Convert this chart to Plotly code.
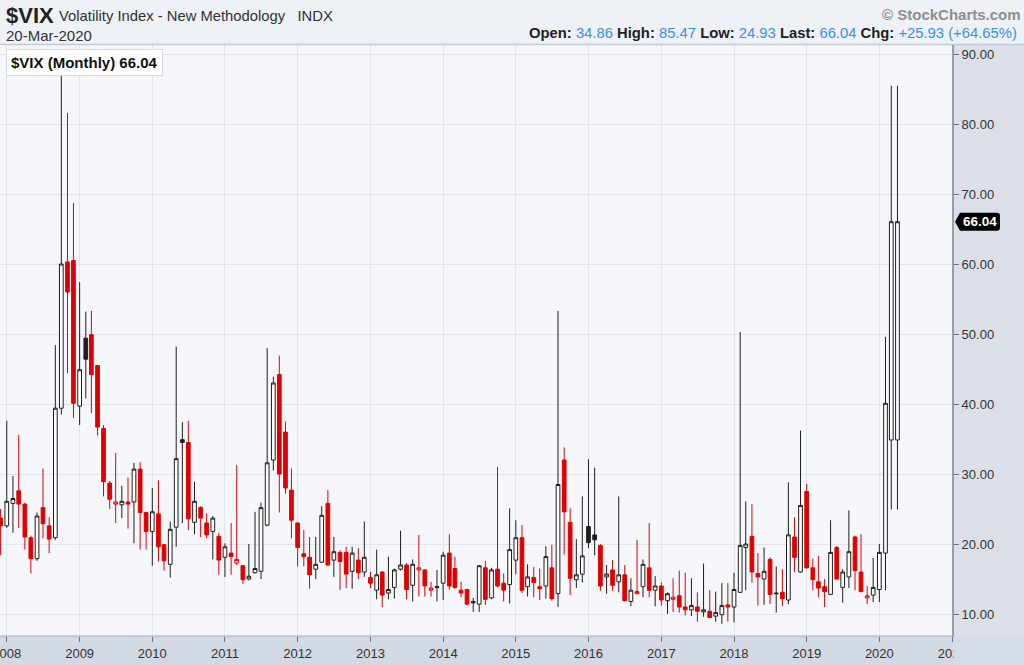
import plotly.graph_objects as go
import pandas as pd

# ---------------- data (monthly $VIX candles, Dec-2007 .. Mar-2020 + repeated current bar) ----------------
months = pd.date_range("2007-12-01", periods=149, freq="MS")

opens = [
    23.7,
    22.6, 25.8, 27.6, 25.7, 20.9, 17.9, 25.2, 22.6, 20.9, 39.4, 60.3, 60.5,
    39.7, 49.4, 49.9, 45.5, 36.5, 28.7, 25.7, 25.6, 26.0, 26.0, 30.7, 24.5,
    21.8, 24.3, 19.9, 17.1, 22.4, 34.9, 34.5, 23.1, 25.2, 23.0, 21.8, 21.1,
    18.1, 18.7, 17.3, 16.9, 15.0, 15.9, 16.1, 22.7, 32.0, 44.2, 36.0, 27.7,
    23.0, 18.6, 18.1, 16.4, 17.4, 25.8, 17.7, 18.8, 18.8, 16.1, 17.7, 16.0,
    15.2, 13.4, 16.0, 13.0, 13.8, 16.4, 17.0, 14.1, 16.3, 16.3, 13.4, 13.9,
    14.4, 18.7, 16.5, 13.4, 13.5, 11.8, 11.4, 16.6, 12.3, 16.4, 14.4, 14.2,
    17.7, 20.9, 13.9, 15.2, 13.9, 14.0, 16.6, 12.9, 32.0, 23.1, 14.9, 15.7,
    22.5, 21.3, 19.8, 15.3, 16.3, 14.6, 15.6, 11.8, 12.9, 13.9, 16.6, 13.4,
    14.0, 11.9, 12.1, 12.6, 11.0, 10.6, 11.0, 10.3, 10.4, 9.7, 9.9, 11.3,
    11.0, 13.1, 19.5, 21.1, 15.8, 15.0, 17.8, 13.0, 13.1, 12.0, 21.0, 16.0,
    27.5, 16.6, 14.6, 13.9, 12.8, 19.5, 13.8, 15.3, 21.0, 16.0, 12.3, 12.7,
    13.5, 18.7, 34.86, 34.86,
]
highs = [
    25.0,
    37.6, 29.7, 35.6, 25.9, 21.2, 24.5, 30.8, 23.8, 48.4, 89.5, 81.6, 68.7,
    57.4, 53.2, 53.3, 45.6, 37.0, 29.0, 33.0, 28.3, 29.5, 31.6, 31.7, 24.6,
    28.0, 29.1, 20.0, 23.2, 48.2, 37.4, 37.6, 28.9, 25.4, 24.4, 24.0, 21.6,
    20.1, 23.0, 31.3, 17.0, 20.0, 24.6, 25.9, 48.0, 43.9, 46.9, 37.5, 30.8,
    23.1, 22.0, 21.0, 21.0, 25.4, 27.7, 21.0, 19.1, 19.6, 19.6, 19.4, 23.2,
    16.0, 19.2, 16.1, 18.2, 16.5, 21.9, 17.3, 17.8, 21.3, 16.4, 14.6, 16.3,
    18.9, 21.4, 18.2, 14.6, 13.6, 12.3, 17.0, 17.6, 16.6, 31.0, 15.8, 25.1,
    23.4, 22.7, 17.1, 16.7, 16.5, 19.7, 19.9, 53.3, 33.8, 25.1, 20.7, 26.8,
    32.1, 30.9, 20.0, 17.0, 17.7, 26.8, 17.0, 15.1, 20.6, 17.8, 23.0, 15.4,
    14.5, 13.1, 15.1, 16.2, 15.9, 15.1, 13.1, 17.2, 13.4, 13.2, 14.4, 14.4,
    15.9, 50.3, 26.1, 25.7, 18.7, 19.5, 18.1, 16.8, 16.4, 28.8, 23.8, 36.2,
    28.6, 17.9, 18.3, 15.0, 23.4, 19.7, 16.4, 24.8, 21.2, 21.4, 14.0, 18.0,
    20.0, 49.6, 85.47, 85.47,
]
lows = [
    18.4,
    22.3, 21.6, 22.3, 19.2, 15.8, 17.6, 20.8, 18.7, 20.6, 38.5, 44.4, 38.0,
    37.0, 40.8, 38.7, 35.5, 26.8, 25.0, 23.0, 23.7, 22.2, 20.1, 19.2, 19.2,
    16.9, 17.5, 16.2, 15.2, 19.6, 23.0, 22.0, 21.4, 21.0, 20.8, 17.8, 15.6,
    15.3, 15.6, 17.0, 14.3, 14.8, 15.8, 15.0, 22.5, 30.5, 24.5, 27.2, 20.8,
    16.8, 16.8, 13.6, 15.0, 17.3, 16.9, 15.3, 13.4, 13.7, 13.6, 15.0, 15.3,
    13.7, 12.1, 11.0, 12.1, 12.2, 16.2, 12.1, 11.8, 12.5, 12.5, 12.5, 11.8,
    12.0, 13.5, 13.6, 12.4, 11.3, 10.3, 10.3, 11.3, 12.1, 13.8, 11.8, 11.5,
    15.7, 13.0, 12.5, 12.4, 12.0, 12.2, 11.9, 11.0, 18.5, 12.7, 13.7, 14.5,
    19.4, 18.4, 13.3, 12.9, 13.3, 13.1, 11.8, 11.1, 12.8, 12.4, 12.4, 11.1,
    11.2, 10.0, 10.3, 10.2, 9.8, 9.7, 8.9, 9.6, 9.4, 8.9, 8.6, 8.9,
    8.8, 13.1, 13.4, 14.5, 11.2, 11.3, 11.4, 10.2, 11.1, 11.4, 16.0, 15.9,
    16.5, 13.4, 12.4, 11.0, 12.7, 14.9, 11.6, 13.7, 13.4, 13.1, 11.4, 11.7,
    11.7, 13.4, 24.93, 24.93,
]
closes = [
    22.6,
    26.1, 26.5, 25.7, 21.0, 17.9, 24.0, 22.9, 20.7, 39.4, 60.0, 56.0, 40.1,
    44.9, 46.4, 44.2, 36.7, 28.9, 26.4, 26.0, 26.1, 25.7, 30.7, 24.5, 21.8,
    24.6, 19.6, 17.6, 22.1, 32.2, 34.5, 23.6, 26.1, 23.7, 21.3, 23.7, 17.7,
    19.6, 18.2, 17.8, 14.9, 15.4, 16.5, 25.2, 31.6, 43.0, 30.0, 28.0, 23.4,
    19.5, 18.2, 15.6, 17.1, 24.1, 17.0, 18.9, 17.5, 15.7, 18.7, 15.9, 18.1,
    14.4, 15.6, 12.7, 13.5, 16.3, 17.0, 13.5, 17.1, 16.6, 14.0, 13.7, 13.8,
    18.4, 14.0, 13.8, 13.0, 11.4, 11.6, 16.9, 12.1, 16.3, 14.0, 13.4, 19.2,
    20.9, 13.4, 15.3, 14.5, 13.6, 18.2, 12.2, 28.5, 24.6, 15.1, 15.6, 18.3,
    20.2, 20.6, 14.0, 15.7, 14.1, 15.6, 11.9, 13.4, 13.2, 17.1, 13.4, 14.0,
    12.0, 12.9, 12.4, 11.0, 10.6, 11.2, 10.4, 10.6, 9.5, 10.2, 11.2, 11.0,
    13.5, 19.8, 20.0, 16.0, 15.3, 16.1, 12.8, 12.9, 12.2, 21.3, 18.1, 25.5,
    16.6, 14.9, 13.7, 13.2, 18.8, 15.0, 16.0, 18.9, 16.2, 13.2, 12.6, 13.8,
    18.8, 40.1, 66.04, 66.04,
]

year_ticks_start = "2008-01-01"
header_title = "$VIX"
header_desc = "Volatility Index - New Methodology\u00a0\u00a0 INDX"
header_date = "20-Mar-2020"
quote_labels = ["Open:", "High:", "Low:", "Last:", "Chg:"]
quote_values = ["34.86", "85.47", "24.93", "66.04", "+25.93 (+64.65%)"]
last_value = 66.04

# ---------------- geometry ----------------
W, H = 1024, 665
ML, MR, MT, MB = 0, 71, 45, 29
PW = W - ML - MR
PH = H - MT - MB
FONT = "Liberation Sans, Arial, Helvetica, sans-serif"


def px_x(px):
    return (px - ML) / PW


def px_y(py):
    return (H - MB - py) / PH


# StockCharts colouring: black when close >= previous close, red otherwise
black_idx, red_idx = [], []
prev = None
for i, (o, c) in enumerate(zip(opens, closes)):
    ref = prev if prev is not None else o
    (black_idx if c >= ref else red_idx).append(i)
    prev = c

BLACK = "#1e1e1e"
RED = "#e10000"


def candles(idx, color):
    return go.Candlestick(
        x=[months[i] for i in idx],
        open=[opens[i] for i in idx],
        high=[highs[i] for i in idx],
        low=[lows[i] for i in idx],
        close=[closes[i] for i in idx],
        increasing=dict(line=dict(color=color, width=1), fillcolor="#ffffff"),
        decreasing=dict(line=dict(color=color, width=1), fillcolor=color),
        whiskerwidth=0,
        hoverinfo="skip",
        showlegend=False,
    )


fig = go.Figure([candles(red_idx, RED), candles(black_idx, BLACK)])

shapes = []
# right axis panel
shapes.append(dict(type="rect", xref="paper", yref="paper", x0=1.0, x1=px_x(W), y0=px_y(H), y1=px_y(MT),
                   fillcolor="#dbe0e8", line=dict(width=0), layer="below"))
# bottom axis panel
shapes.append(dict(type="rect", xref="paper", yref="paper", x0=0, x1=1.0, y0=px_y(H), y1=0,
                   fillcolor="#d3d9e2", line=dict(width=0), layer="below"))
# bottom-right corner covering clipped tick label
shapes.append(dict(type="rect", xref="paper", yref="paper", x0=1.0 + 0.5 / PW, x1=px_x(W + 2), y0=px_y(H + 2), y1=-1.0 / PH,
                   fillcolor="#d6dce5", line=dict(width=0), layer="above"))
# header separator
shapes.append(dict(type="line", xref="paper", yref="paper", x0=0, x1=px_x(W), y0=px_y(44.5), y1=px_y(44.5),
                   line=dict(color="#c3cad5", width=1.5)))
# right axis line
shapes.append(dict(type="line", xref="paper", yref="paper", x0=1.0, x1=1.0, y0=-1.0 / PH, y1=1,
                   line=dict(color="#7d848e", width=1.5), layer="above"))
# bottom axis line
shapes.append(dict(type="line", xref="paper", yref="paper", x0=0, x1=1.0, y0=0, y1=0,
                   line=dict(color="#a4abb5", width=1), layer="above"))

# last price tag
u = 1.0 / 7.0  # data units per pixel on y
tip = px_x(955)
l = px_x(960)
r = px_x(1000)
rr = px_x(997)
top = last_value + 9 * u
bot = last_value - 9 * u
path = (f"M {tip} {last_value} L {l} {top} L {rr} {top} Q {r} {top} {r} {top - 3*u} "
        f"L {r} {bot + 3*u} Q {r} {bot} {rr} {bot} L {l} {bot} Z")
shapes.append(dict(type="path", xref="paper", yref="y", path=path, fillcolor="#000000",
                   line=dict(width=0), layer="above"))

annotations = []
annotations.append(dict(text=f"<b>{last_value:.2f}</b>", xref="paper", yref="y", x=px_x(979.5), y=last_value,
                        showarrow=False, font=dict(family=FONT, size=13.5, color="#ffffff"),
                        xanchor="center", yanchor="middle"))
annotations.append(dict(text=f"<b>$VIX (Monthly) {last_value:.2f}</b>", xref="paper", yref="paper",
                        x=px_x(6), y=px_y(49), xanchor="left", yanchor="top", showarrow=False,
                        font=dict(family=FONT, size=15, color="#111111"), bgcolor="#ffffff",
                        bordercolor="#d8dbe0", borderwidth=1, borderpad=4))
annotations.append(dict(text=f"<b>{header_title}</b>", xref="paper", yref="paper", x=px_x(4), y=px_y(15),
                        xanchor="left", yanchor="middle", showarrow=False,
                        font=dict(family=FONT, size=22, color="#222222")))
annotations.append(dict(text=header_desc, xref="paper", yref="paper", x=px_x(57), y=px_y(16),
                        xanchor="left", yanchor="middle", showarrow=False,
                        font=dict(family=FONT, size=14.8, color="#333333")))
annotations.append(dict(text=header_date, xref="paper", yref="paper", x=px_x(4), y=px_y(35),
                        xanchor="left", yanchor="middle", showarrow=False,
                        font=dict(family=FONT, size=15, color="#333333")))
annotations.append(dict(text="<b>\u00a9 StockCharts.com</b>", xref="paper", yref="paper", x=px_x(1023), y=px_y(14),
                        xanchor="right", yanchor="middle", showarrow=False,
                        font=dict(family=FONT, size=15, color="#8e8e8e")))
quote = " ".join(f"<b>{lab}</b> <span style='color:#3d8fe8'>{val}</span>"
                 for lab, val in zip(quote_labels, quote_values))
annotations.append(dict(text=quote, xref="paper", yref="paper", x=px_x(1019), y=px_y(33),
                        xanchor="right", yanchor="middle", showarrow=False,
                        font=dict(family=FONT, size=14.8, color="#222222")))

fig.update_layout(
    width=W, height=H,
    margin=dict(l=ML, r=MR, t=MT, b=MB, pad=0, autoexpand=False),
    paper_bgcolor="#eef1f5",
    plot_bgcolor="#f5f7fb",
    font=dict(family=FONT, color="#333333"),
    boxgap=0.05,
    shapes=shapes,
    annotations=annotations,
    showlegend=False,
    hovermode=False,
    xaxis=dict(
        type="date",
        range=["2007-11-28", "2021-01-05"],
        tick0=year_ticks_start, dtick="M12", tickformat="%Y",
        showgrid=True, gridcolor="#e0e4eb", gridwidth=1,
        ticks="outside", ticklen=5, tickcolor="#6c727b",
        tickfont=dict(family=FONT, size=13, color="#333333"),
        ticklabeloverflow="allow",
        automargin=False,
        showline=False, zeroline=False,
        rangeslider=dict(visible=False),
        fixedrange=True,
    ),
    yaxis=dict(
        side="right",
        range=[10 - 22 / 7, 90 + 9 / 7],
        tick0=0, dtick=10, tickformat=".2f",
        showgrid=True, gridcolor="#e0e4eb", gridwidth=1,
        ticks="outside", ticklen=5, tickcolor="#6c727b",
        tickfont=dict(family=FONT, size=13, color="#333333"),
        automargin=False,
        showline=False, zeroline=False,
        fixedrange=True,
    ),
)

fig.write_html(
    "out.html",
    config={"displayModeBar": False},
    post_script="document.body.style.margin='0';document.body.style.overflow='hidden';",
)
